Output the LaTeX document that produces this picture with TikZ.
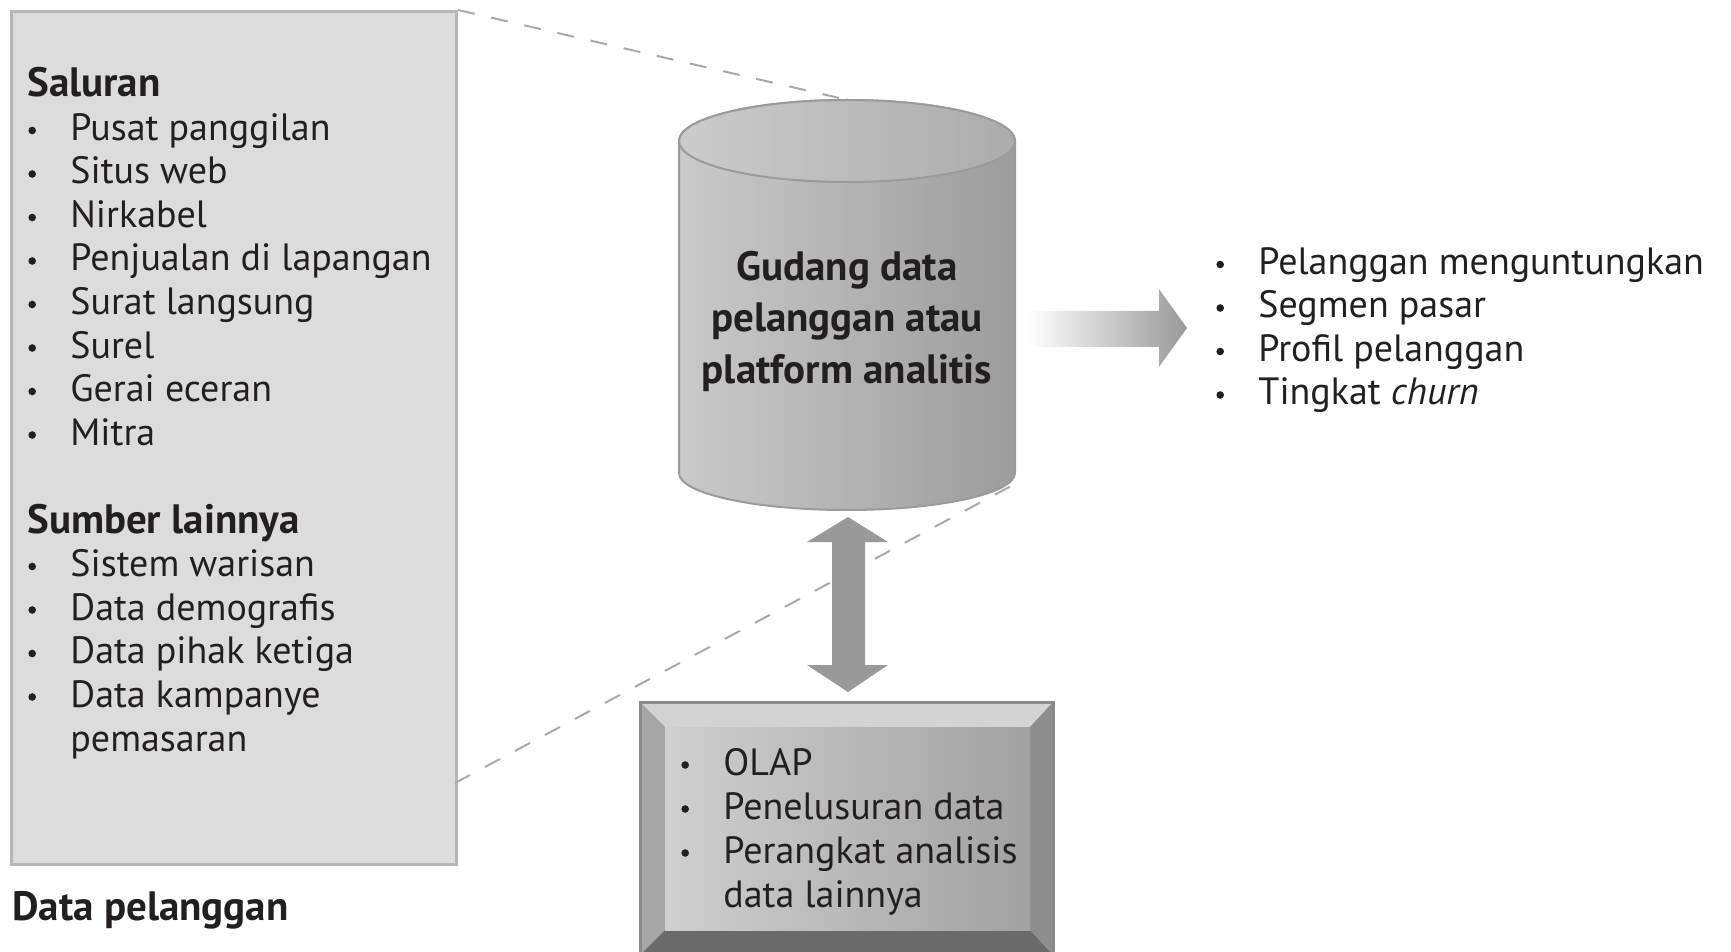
\documentclass[tikz,border=0pt]{standalone}
\usepackage{fontspec}
\setmainfont{PT Sans}
\usetikzlibrary{calc}
\definecolor{txt}{HTML}{231F20}
\definecolor{boxfill}{HTML}{DCDCDC}
\definecolor{boxline}{HTML}{B6B6B6}
\definecolor{dashgray}{HTML}{A8A8A8}
\definecolor{cylL}{HTML}{CACACA}
\definecolor{cylR}{HTML}{9C9C9C}
\definecolor{topL}{HTML}{CBCBCB}
\definecolor{topR}{HTML}{ACACAC}
\definecolor{cylline}{HTML}{9A9A9A}
\definecolor{arrgray}{HTML}{999999}
\definecolor{bevTop}{HTML}{D3D3D3}
\definecolor{bevLeft}{HTML}{A6A6A6}
\definecolor{bevRight}{HTML}{8E8E8E}
\definecolor{bevBot}{HTML}{6A6A6A}
\definecolor{faceL}{HTML}{CFCFCF}
\definecolor{faceR}{HTML}{A2A2A2}
\definecolor{frame}{HTML}{8A8A8A}
\newcommand{\bl}{\makebox[21pt][l]{\tikz[baseline={(0pt,-5pt)}]\fill[txt] (2pt,0pt) circle (1.9pt);}}
\begin{document}
\begin{tikzpicture}[x=0.5pt, y=-0.5pt,
  every node/.style={text=txt},
  item/.style={anchor=base west, inner sep=0pt, font=\fontsize{19}{22}\selectfont},
  head/.style={anchor=base west, inner sep=0pt, font=\bfseries\fontsize{20.5}{22}\selectfont},
  dashline/.style={draw=dashgray, line width=1pt, dash pattern=on 8.5pt off 8.5pt},
  custbox/.style={draw=boxline, fill=boxfill, line width=1.5pt, inner sep=0pt}]
\useasboundingbox (0,0) rectangle (1731,952);
\clip (0,0) rectangle (1731,952);

% customer data box
\node[custbox, anchor=north west, minimum width=222.5pt, minimum height=426.5pt] (cust) at (10,10) {};
\coordinate (custlow) at (455,783);

% cylinder reference points
\coordinate (cyltop) at (848,100);
\coordinate (cylbr) at (1013,485);

% dashed connectors (behind)
\draw[dashline] (cust.north east) -- (cyltop);
\draw[dashline] (custlow) -- (cylbr);

% left lists
\node[head] (saluran) at (27,97) {Saluran};
\foreach [count=\i] \t in {Pusat panggilan, Situs web, Nirkabel, Penjualan di lapangan, Surat langsung, Surel, Gerai eceran, Mitra}
  \node[item] (sal\i) at (28,{97+43.5*\i}) {\bl\t};
\node[head] (sumber) at (27,533) {Sumber lainnya};
\foreach [count=\i] \t in {Sistem warisan, Data demografis, Data pihak ketiga, Data kampanye}
  \node[item] (sum\i) at (28,{533+43.5*\i}) {\bl\t};
\node[item] (sum5) at (70,751) {pemasaran};
\node[head] (caption) at (12,920) {Data pelanggan};

% cylinder
\path[draw=cylline, line width=1pt, left color=cylL, right color=cylR]
  (679,141) -- (679,473) arc[start angle=180, end angle=360, x radius=84pt, y radius=18.5pt]
  -- (1015,141) arc[start angle=0, end angle=180, x radius=84pt, y radius=20.5pt] -- cycle;
\path[draw=cylline, line width=1pt, left color=topL, right color=topR]
  (847,141) ellipse [x radius=84pt, y radius=20.5pt];
\node[align=center, inner sep=0pt, font=\bfseries\fontsize{20.5}{25.75}\selectfont] (dw) at (847,321)
  {Gudang data\\pelanggan atau\\platform analitis};

% output arrow
\path[left color=white, right color=arrgray]
  (1028,311) -- (1159,311) -- (1159,289) -- (1187,328) -- (1159,367) -- (1159,347) -- (1028,347) -- cycle;

% results list
\foreach [count=\i] \t in {Pelanggan menguntungkan, Segmen pasar, Profil pelanggan, Tingkat \emph{churn}}
  \node[item] (res\i) at (1216,{231+43.5*\i}) {\bl\t};

% double arrow
\fill[arrgray] (848,517) -- (888,542) -- (865,542) -- (865,665) -- (888,665) -- (848,692)
  -- (807,665) -- (832,665) -- (832,542) -- (807,542) -- cycle;

% tools box (bevelled)
\fill[bevTop] (640,702) -- (1053,702) -- (1030,727) -- (665,727) -- cycle;
\fill[bevLeft] (640,702) -- (665,727) -- (665,930) -- (640,955) -- cycle;
\fill[bevRight] (1053,702) -- (1053,955) -- (1030,930) -- (1030,727) -- cycle;
\fill[bevBot] (640,955) -- (665,930) -- (1030,930) -- (1053,955) -- cycle;
\shade[left color=faceL, right color=faceR] (665,727) rectangle (1030,930);
\draw[frame, line width=1.5pt] (640,702) rectangle (1053,955);
\foreach [count=\i] \t in {OLAP, Penelusuran data, Perangkat analisis}
  \node[item] (tool\i) at (681,{731+44*\i}) {\bl\t};
\node[item] (tool4) at (723,907) {data lainnya};
\end{tikzpicture}
\end{document}
